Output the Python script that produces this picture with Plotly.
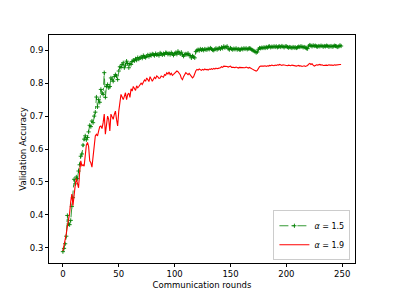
import plotly.graph_objects as go

rounds = list(range(250))

acc_alpha_15 = [
    0.288, 0.298, 0.312, 0.335, 0.398, 0.372, 0.370, 0.383, 0.425, 0.452,
    0.508, 0.494, 0.515, 0.510, 0.533, 0.552, 0.578, 0.585, 0.612, 0.630,
    0.640, 0.628, 0.635, 0.652, 0.672, 0.668, 0.685, 0.680, 0.700, 0.712,
    0.758, 0.728, 0.750, 0.742, 0.781, 0.770, 0.766, 0.832, 0.757, 0.790,
    0.796, 0.786, 0.790, 0.816, 0.812, 0.806, 0.820, 0.826, 0.822, 0.811,
    0.837, 0.850, 0.848, 0.857, 0.862, 0.847, 0.855, 0.867, 0.860, 0.847,
    0.860, 0.857, 0.866, 0.870, 0.868, 0.874, 0.870, 0.878, 0.873, 0.877,
    0.880, 0.876, 0.884, 0.880, 0.878, 0.882, 0.886, 0.881, 0.887, 0.884,
    0.889, 0.887, 0.884, 0.890, 0.886, 0.888, 0.884, 0.892, 0.889, 0.886,
    0.890, 0.887, 0.893, 0.892, 0.888, 0.891, 0.887, 0.893, 0.889, 0.885,
    0.890, 0.893, 0.888, 0.897, 0.892, 0.889, 0.894, 0.886, 0.882, 0.887,
    0.889, 0.887, 0.891, 0.885, 0.884, 0.877, 0.883, 0.880, 0.877, 0.896,
    0.900, 0.902, 0.899, 0.904, 0.901, 0.903, 0.900, 0.904, 0.902, 0.902,
    0.905, 0.903, 0.907, 0.904, 0.901, 0.900, 0.903, 0.906, 0.902, 0.905,
    0.907, 0.904, 0.909, 0.906, 0.912, 0.908, 0.910, 0.912, 0.905, 0.902,
    0.907, 0.904, 0.902, 0.905, 0.903, 0.906, 0.902, 0.904, 0.902, 0.902,
    0.905, 0.903, 0.906, 0.904, 0.906, 0.903, 0.905, 0.906, 0.905, 0.902,
    0.900, 0.898, 0.896, 0.893, 0.895, 0.903, 0.907, 0.906, 0.908, 0.907,
    0.909, 0.907, 0.910, 0.908, 0.911, 0.912, 0.909, 0.911, 0.910, 0.912,
    0.910, 0.912, 0.909, 0.911, 0.912, 0.910, 0.913, 0.911, 0.909, 0.912,
    0.912, 0.910, 0.908, 0.910, 0.909, 0.907, 0.910, 0.908, 0.909, 0.907,
    0.909, 0.911, 0.910, 0.912, 0.911, 0.909, 0.910, 0.908, 0.906, 0.905,
    0.913, 0.916, 0.914, 0.912, 0.915, 0.913, 0.914, 0.912, 0.911, 0.913,
    0.912, 0.914, 0.913, 0.911, 0.913, 0.912, 0.914, 0.913, 0.911, 0.912,
    0.913, 0.911, 0.912, 0.914, 0.913, 0.912, 0.910, 0.912, 0.915, 0.913,
]

acc_alpha_19 = [
    0.290, 0.305, 0.322, 0.342, 0.365, 0.385, 0.405, 0.440, 0.463, 0.428,
    0.470, 0.489, 0.510, 0.496, 0.482, 0.530, 0.564, 0.549, 0.552, 0.548,
    0.590, 0.612, 0.620, 0.608, 0.564, 0.558, 0.545, 0.580, 0.620, 0.640,
    0.645, 0.640, 0.655, 0.668, 0.670, 0.662, 0.680, 0.706, 0.645, 0.680,
    0.700, 0.690, 0.655, 0.706, 0.700, 0.690, 0.705, 0.715, 0.690, 0.670,
    0.715, 0.740, 0.766, 0.758, 0.750, 0.760, 0.771, 0.750, 0.766, 0.770,
    0.757, 0.783, 0.776, 0.790, 0.785, 0.778, 0.792, 0.786, 0.790, 0.796,
    0.800, 0.796, 0.804, 0.810, 0.806, 0.816, 0.811, 0.805, 0.820, 0.814,
    0.806, 0.812, 0.818, 0.814, 0.822, 0.819, 0.815, 0.816, 0.822, 0.820,
    0.818, 0.826, 0.824, 0.832, 0.828, 0.834, 0.826, 0.830, 0.824, 0.827,
    0.830, 0.834, 0.837, 0.835, 0.832, 0.826, 0.815, 0.811, 0.820, 0.826,
    0.832, 0.829, 0.826, 0.830, 0.824, 0.822, 0.816, 0.820, 0.832, 0.838,
    0.842, 0.840, 0.843, 0.841, 0.839, 0.842, 0.840, 0.843, 0.841, 0.842,
    0.840, 0.843, 0.842, 0.844, 0.842, 0.845, 0.843, 0.846, 0.844, 0.845,
    0.845, 0.847, 0.850, 0.848, 0.852, 0.852, 0.850, 0.851, 0.849, 0.850,
    0.852, 0.848, 0.849, 0.848, 0.847, 0.849, 0.848, 0.846, 0.848, 0.848,
    0.847, 0.846, 0.848, 0.847, 0.849, 0.848, 0.846, 0.848, 0.845, 0.843,
    0.842, 0.840, 0.838, 0.837, 0.839, 0.845, 0.850, 0.852, 0.851, 0.852,
    0.852, 0.853, 0.851, 0.853, 0.852, 0.854, 0.853, 0.855, 0.854, 0.853,
    0.855, 0.854, 0.856, 0.855, 0.857, 0.855, 0.854, 0.856, 0.855, 0.854,
    0.855, 0.853, 0.855, 0.854, 0.853, 0.855, 0.854, 0.852, 0.853, 0.852,
    0.853, 0.854, 0.852, 0.853, 0.851, 0.852, 0.853, 0.851, 0.852, 0.854,
    0.858, 0.860, 0.857, 0.859, 0.855, 0.852, 0.854, 0.856, 0.855, 0.857,
    0.857, 0.855, 0.856, 0.854, 0.855, 0.856, 0.855, 0.854, 0.856, 0.855,
    0.856, 0.855, 0.854, 0.856, 0.855, 0.856, 0.857, 0.856, 0.857, 0.857,
]

x_ticks = [0, 50, 100, 150, 200, 250]
y_ticks = [0.3, 0.4, 0.5, 0.6, 0.7, 0.8, 0.9]
series_names = ["<i>α</i> = 1.5", "<i>α</i> = 1.9"]

fig = go.Figure()
fig.add_trace(go.Scatter(
    x=rounds, y=acc_alpha_15, name=series_names[0], mode="lines+markers",
    line=dict(color="green", width=0.8, dash="dashdot"),
    marker=dict(symbol="cross-thin", size=3, color="green",
                line=dict(color="green", width=0.9)),
))
fig.add_trace(go.Scatter(
    x=rounds, y=acc_alpha_19, name=series_names[1], mode="lines",
    line=dict(color="red", width=1.1),
))

axis_common = dict(
    showgrid=False, zeroline=False, showline=True, linecolor="black",
    linewidth=0.8, mirror=True, ticks="outside", ticklen=3, tickwidth=0.8,
    tickcolor="black", automargin=False,
    tickfont=dict(family="DejaVu Sans", size=8.5, color="black"),
)
fig.update_xaxes(
    range=[-12.45, 261.45], tickvals=x_ticks,
    title=dict(text="Communication rounds", standoff=3,
               font=dict(family="DejaVu Sans", size=8.5, color="black")),
    **axis_common,
)
fig.update_yaxes(
    range=[0.2535, 0.9465], tickvals=y_ticks, tickformat=".1f",
    title=dict(text="Validation Accuracy", standoff=1,
               font=dict(family="DejaVu Sans", size=8.5, color="black")),
    **axis_common,
)
fig.update_layout(
    width=386, height=288,
    margin=dict(l=41, r=39, t=27, b=33),
    paper_bgcolor="white", plot_bgcolor="white",
    showlegend=True,
    legend=dict(x=0.985, y=0.012, xanchor="right", yanchor="bottom",
                bgcolor="rgba(255,255,255,0.8)", bordercolor="#cccccc",
                borderwidth=1, font=dict(family="DejaVu Sans", size=8, color="black"),
                tracegroupgap=0, itemwidth=30),
)

fig.write_html("out.html")
